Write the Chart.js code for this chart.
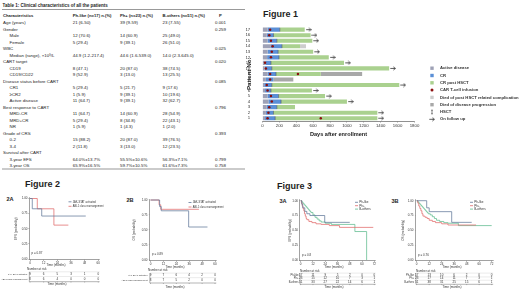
<!DOCTYPE html>
<html><head><meta charset="utf-8">
<script src="https://cdn.jsdelivr.net/npm/chart.js@4.4.1/dist/chart.umd.min.js"></script>
<style>
html,body{margin:0;padding:0;background:#fff;}
body{width:520px;height:291px;position:relative;overflow:hidden;font-family:"Liberation Sans",Arial,sans-serif;color:#1e1e1e;}
.t{position:absolute;white-space:nowrap;line-height:1;}
.t sup{font-size:0.6em;vertical-align:0;position:relative;top:-0.45em;line-height:0;}
canvas{position:absolute;}
#tbl{position:absolute;left:0;top:0;width:2080px;height:1164px;transform:scale(0.25);transform-origin:0 0;}
#ovl{position:absolute;left:0;top:0;width:2080px;height:1164px;transform:scale(0.25);transform-origin:0 0;}
.ln{position:absolute;background:#333;}
</style></head>
<body>
<div id="tbl"></div>
<div id="ovl"></div>
<script>
// ================= DATA =================
const tableTitle = 'Table 1: Clinical characteristics of all the patients';
const tableHeader = ['Characteristics','Ph-like (n=17) n.(%)','Ph+ (n=23) n.(%)','B-others (n=51) n.(%)','P'];
const rowLabels = ['Age (years)','Gender','Male','Female','WBC','Median (range), ×10<sup>9</sup>/L','CART target','CD19','CD19/CD22','Disease status before CART','CR1','≥CR2','Active disease','Best response to CART','MRD-CR','MRD+CR','NR','Grade of CRS','0-2','3-4','Survival after CART','3-year EFS','3-year OS'];
const rowIndent = [0,0,1,1,0,1,0,1,1,0,1,1,1,0,1,1,1,0,1,1,0,1,1];
const colPhLike = ['21 (6-50)','','12 (70.6)','5 (29.4)','','44.9 (1.2-217.4)','','8 (47.1)','9 (52.9)','','5 (29.4)','1 (5.9)','11 (64.7)','','11 (64.7)','5 (29.4)','1 (5.9)','','15 (88.2)','2 (11.8)','','64.0%±13.7%','65.9%±16.5%'];
const colPhPos = ['39 (9-59)','','14 (60.9)','9 (39.1)','','44.6 (1.6-539.0)','','20 (87.0)','3 (13.0)','','5 (21.7)','9 (39.1)','9 (39.1)','','14 (60.9)','8 (34.8)','1 (4.3)','','20 (87.0)','3 (13.0)','','55.5%±10.6%','59.7%±10.5%'];
const colBOthers = ['23 (7-55)','','25 (49.0)','26 (51.0)','','14.0 (2.3-645.0)','','38 (74.5)','13 (25.5)','','9 (17.6)','10 (19.6)','32 (62.7)','','28 (54.9)','22 (43.1)','1 (2.0)','','39 (76.5)','12 (23.5)','','56.3%±7.1%','61.6%±7.3%'];
const colP = ['0.001','0.259','','','0.025','','0.020','','','0.085','','','','0.796','','','','0.393','','','','0.799','0.758'];

// Figure 1 (swimmer plot), days after enrollment
const patientNo = ['17','16','15','14','13','12','11','10','9','8','7','6','5','4','3','2','1'];
const activeDiseaseEnd = [60,50,60,100,60,55,40,25,60,40,20,30,60,70,50,40,30];
const crEnd = [205,130,170,230,185,195,100,110,160,130,110,100,190,220,170,130,150];
const crPostHsctEnd = [500,570,590,445,600,785,965,1500,690,null,1620,585,740,1000,385,1360,1360];
const diedPostHsctEnd = [null,null,null,515,null,null,null,null,null,null,null,null,null,null,null,null,null];
const diedProgressionEnd = [null,null,null,null,null,null,null,null,1180,365,null,null,null,null,null,null,null];
const onFollowUp = [1,1,1,0,1,1,1,1,0,0,1,1,1,1,0,1,1];
const carTDay = [90,80,100,120,110,100,30,40,90,90,50,60,100,110,80,70,60];
const carTReinfusionPatient = ['9','1'];
const carTReinfusionDay = [420,690];
const daysTicks = [0,200,400,600,800,1000,1200,1400,1600,1800];
const fig1LegendLabels = ['Active disease','CR','CR post HSCT','CAR T-cell infusion','Died of post HSCT related complication','Died of disease progression','HSCT','On follow up'];

// Figure 2A (EFS, Ph-like subgroups)
const km2A_jak_t = [0,2,10.3,49];      const km2A_jak_s = [1,0.83,0.71,0.71];
const km2A_abl_t = [0,6.4,21,33.7];    const km2A_abl_s = [1,0.83,0.56,0.56];
const risk2A_jak = [9,6,5,3,1,0];      const risk2A_abl = [8,6,4,0,0,0];
// Figure 2B (OS, Ph-like subgroups)
const km2B_jak_t = [0,8.5,10,35.5,53]; const km2B_jak_s = [1,0.89,0.82,0.55,0.55];
const km2B_abl_t = [0,8,9.5,45];       const km2B_abl_s = [1,0.92,0.845,0.845];
const risk2B_jak = [9,7,6,4,2,0];      const risk2B_abl = [8,7,5,2,0,0];
const months60 = [0,12,24,36,48,60];
// Figure 3A (EFS by group)
const km3A_phl_t = [0,1,2,4,6,9,23.5,48];
const km3A_phl_s = [1,0.94,0.88,0.82,0.78,0.75,0.635,0.635];
const km3A_php_t = [0,0.7,1.5,2.2,3,3.7,4.5,5.3,6,8,11,15,20,28,38,71];
const km3A_php_s = [1,0.96,0.91,0.87,0.83,0.78,0.74,0.70,0.68,0.65,0.63,0.61,0.60,0.58,0.55,0.55];
const km3A_bo_t = [0,1,2,3,4,5,6,7,8,9,10,12,14,16,18,20,24,30,53,64.5];
const km3A_bo_s = [1,0.98,0.96,0.94,0.92,0.90,0.88,0.86,0.84,0.82,0.80,0.76,0.72,0.69,0.66,0.64,0.62,0.60,0.48,0];
const risk3A_phl = [17,11,9,5,2,0,0]; const risk3A_php = [23,15,12,10,7,3,1]; const risk3A_bo = [51,33,27,22,14,6,1];
// Figure 3B (OS by group)
const km3B_phl_t = [0,9.6,12,33.6,52.8];
const km3B_phl_s = [1,0.88,0.815,0.635,0.635];
const km3B_php_t = [0,1,2,3,4,5,6,8,10,12,15,18,24,30,57];
const km3B_php_s = [1,0.96,0.91,0.87,0.83,0.78,0.74,0.72,0.70,0.67,0.65,0.63,0.61,0.59,0.59];
const km3B_bo_t = [0,1,2,3,4,5,6,7,8,9,10,11,13,15,17,19,22,26,30,40,72];
const km3B_bo_s = [1,0.98,0.96,0.94,0.92,0.90,0.88,0.86,0.84,0.82,0.80,0.78,0.76,0.73,0.70,0.67,0.65,0.63,0.62,0.58,0.58];
const risk3B_phl = [17,13,10,6,2,0,0]; const risk3B_php = [23,17,14,11,7,3,1]; const risk3B_bo = [51,38,31,25,15,6,1];
const months72 = [0,12,24,36,48,60,72];

// ================= STYLE =================
const FONT = '"Liberation Sans", Arial, sans-serif';
const COL_BLUEGRAY = '#62789a', COL_RED = '#e06a6a', COL_GREEN = '#5dbb8e';
const COL_ACTIVE = '#9ea1b6', COL_CR = '#5b8fd6', COL_CRH = '#aad18f', COL_CART = '#8b1010',
      COL_DIEDH = '#cdcdcd', COL_PROG = '#a8a8a8', COL_HSCT = '#555', COL_FU = '#333';
Chart.defaults.font.family = FONT;
Chart.defaults.color = '#333';

// ================= TEXT HELPERS =================
const S = 4;
function addText(parent, html, x, yc, size, bold, align) {
  const d = document.createElement('div');
  d.className = 't';
  d.innerHTML = html;
  d.style.fontSize = (size*S)+'px';
  d.style.top = ((yc - 0.49*size)*S)+'px';
  if (bold) d.style.fontWeight = 'bold';
  parent.appendChild(d);
  if (align === 'center') d.style.left = (x*S - d.offsetWidth/2)+'px';
  else d.style.left = (x*S)+'px';
  return d;
}
function addLine(parent, x1, x2, y, w) {
  const d = document.createElement('div');
  d.className = 'ln';
  d.style.left = (x1*S)+'px'; d.style.width = ((x2-x1)*S)+'px';
  d.style.top = ((y - w/2)*S)+'px'; d.style.height = (w*S)+'px';
  parent.appendChild(d);
}

// ================= TABLE =================
(function(){
  const tb = document.getElementById('tbl');
  const fs = 4.4, hfs = 4.2;
  const cx = [3, 72.7, 120, 162.5, 215];
  addText(tb, tableTitle, 2.5, 5.4, 4.5, true);
  addLine(tb, 2, 245, 9.5, 0.6);
  tableHeader.forEach((h,i)=> addText(tb, h, i===4 ? 219 : cx[i], 15.8, hfs, true));
  rowLabels.forEach((lab,i)=>{
    const y = 22.8 + i*6.5;
    addText(tb, lab, rowIndent[i] ? 9.5 : 3, y, fs, false);
    if (colPhLike[i]) addText(tb, colPhLike[i], cx[1], y, fs, false);
    if (colPhPos[i]) addText(tb, colPhPos[i], cx[2], y, fs, false);
    if (colBOthers[i]) addText(tb, colBOthers[i], cx[3], y, fs, false);
    if (colP[i]) addText(tb, colP[i], cx[4], y, fs, false);
  });
  addLine(tb, 2, 245, 169, 0.7);
  const ov = document.getElementById('ovl');
  addText(ov, 'Figure 1', 263, 14, 9, true);
  addText(ov, 'Figure 2', 25, 183.5, 9, true);
  addText(ov, 'Figure 3', 277, 185.5, 9, true);
  addText(ov, '2A', 6.5, 199.3, 5.6, true);
  addText(ov, '2B', 126.5, 200.3, 5.6, true);
  addText(ov, '3A', 279.5, 201.6, 5.6, true);
  addText(ov, '3B', 391.5, 201.6, 5.6, true);
})();

function mkCanvas(id, c) {
  const el = document.createElement('canvas');
  el.id = id; el.width = c.width; el.height = c.height;
  el.style.left = c.left+'px'; el.style.top = c.top+'px';
  el.style.width = c.width+'px'; el.style.height = c.height+'px';
  document.body.appendChild(el);
  return el;
}

// ================= FIGURE 1: SWIMMER =================
(function(){
  const sc = {left:240, top:20, width:280, height:122};
  const sa = {L:262.5, R:414.5, T:26.5, B:121};
  const el = mkCanvas('swim', sc);
  const yTitleSize = 6.2, yTitleX = 249.5;
  const padL = yTitleX - yTitleSize*0.6 - sc.left;
  const yWidth = sa.L - sc.left - padL;
  const xTitleSize = 5.6, xTitleY = 134.3;
  const xBottom = xTitleY + xTitleSize*0.6 - sc.top;
  const xh = xBottom - (sa.B - sc.top);

  const zeros = patientNo.map(()=>0);
  const seg = (a,b)=>patientNo.map((p,i)=> (a[i]!=null && b[i]!=null) ? [a[i], b[i]] : null);
  const progStart = patientNo.map((p,i)=> crPostHsctEnd[i]!=null ? crPostHsctEnd[i] : crEnd[i]);
  const barOpts = {grouped:false, barPercentage:0.74, categoryPercentage:1, borderWidth:0, order:1};

  const cartPts = patientNo.map((p,i)=> carTDay[i]!=null ? {x:carTDay[i], y:p} : null).filter(Boolean)
    .concat(carTReinfusionPatient.map((p,i)=>({x:carTReinfusionDay[i], y:p})));
  const hsctPts = patientNo.map((p,i)=> crPostHsctEnd[i]!=null ? {x:crEnd[i], y:p} : null).filter(Boolean);
  const fuPts = patientNo.map((p,i)=> onFollowUp[i] ? {x:(crPostHsctEnd[i]||crEnd[i]) + 45, y:p} : null).filter(Boolean);

  const arrow = document.createElement('canvas'); arrow.width = 6; arrow.height = 5;
  (function(g){ g.strokeStyle = COL_FU; g.lineWidth = 0.8; g.beginPath(); g.moveTo(0.3,2.5); g.lineTo(5.4,2.5);
     g.moveTo(3.4,0.9); g.lineTo(5.4,2.5); g.lineTo(3.4,4.1); g.stroke(); })(arrow.getContext('2d'));

  const legendPlugin = {
    id:'fig1legend',
    afterDraw(chart){
      const ctx = chart.ctx; ctx.save();
      const mx = 432 - sc.left, tx = 440 - sc.left;
      const types = ['box','box','box','dot','box','box','hsct','arrow'];
      const cols = [COL_ACTIVE, COL_CR, COL_CRH, COL_CART, COL_DIEDH, COL_PROG, COL_HSCT, COL_FU];
      ctx.font = 'bold 4.2px ' + FONT; ctx.textBaseline = 'middle'; ctx.textAlign = 'left';
      fig1LegendLabels.forEach((lab,i)=>{
        const y = 68.2 + i*7.3 - sc.top;
        ctx.fillStyle = cols[i];
        if (types[i]==='box') ctx.fillRect(mx-1.7, y-1.7, 3.4, 3.4);
        else if (types[i]==='dot') { ctx.beginPath(); ctx.arc(mx, y, 1.5, 0, Math.PI*2); ctx.fill(); }
        else if (types[i]==='hsct') { ctx.strokeStyle = cols[i]; ctx.lineWidth = 0.7; ctx.beginPath();
          ctx.moveTo(mx, y-1.8); ctx.lineTo(mx, y+1.8); ctx.moveTo(mx-1, y-1.8); ctx.lineTo(mx+1, y-1.8);
          ctx.moveTo(mx-1, y+1.8); ctx.lineTo(mx+1, y+1.8); ctx.stroke(); }
        else ctx.drawImage(arrow, mx-3, y-2.5);
        ctx.fillStyle = '#333';
        ctx.fillText(lab, tx, y);
      });
      ctx.restore();
    }
  };

  new Chart(el, {
    type:'bar',
    data:{ labels: patientNo, datasets:[
      {type:'scatter', label:'CAR T-cell infusion', data:cartPts, pointStyle:'circle', pointRadius:1.25, backgroundColor:COL_CART, borderWidth:0, order:-2},
      {type:'scatter', label:'HSCT', data:hsctPts, pointStyle:'line', rotation:90, pointRadius:1.8, borderColor:COL_HSCT, borderWidth:0.6, order:-1},
      {type:'scatter', label:'On follow up', data:fuPts, pointStyle:arrow, pointRadius:2, order:-1},
      Object.assign({label:'Active disease', data:seg(zeros, activeDiseaseEnd), backgroundColor:COL_ACTIVE}, barOpts),
      Object.assign({label:'CR', data:seg(activeDiseaseEnd, crEnd), backgroundColor:COL_CR}, barOpts),
      Object.assign({label:'CR post HSCT', data:seg(crEnd, crPostHsctEnd), backgroundColor:COL_CRH}, barOpts),
      Object.assign({label:'Died of post HSCT related complication', data:seg(crPostHsctEnd, diedPostHsctEnd), backgroundColor:COL_DIEDH}, barOpts),
      Object.assign({label:'Died of disease progression', data:seg(progStart, diedProgressionEnd), backgroundColor:COL_PROG}, barOpts)
    ]},
    options:{
      indexAxis:'y', responsive:false, animation:false, devicePixelRatio:1,
      layout:{autoPadding:false, padding:{left:padL, top:sa.T-sc.top, right:sc.left+sc.width-sa.R, bottom:sc.height-xBottom}},
      plugins:{legend:{display:false}, tooltip:{enabled:false}},
      scales:{
        x:{type:'linear', min:0, max:1800,
           afterBuildTicks:s=>{ s.ticks = daysTicks.map(v=>({value:v})); },
           afterFit:s=>{ s.height = xh; },
           grid:{drawOnChartArea:false, tickLength:1.5, color:'#444', lineWidth:0.5},
           border:{display:true, color:'#444', width:0.6},
           ticks:{font:{size:4.3}, color:'#333', padding:0.3, maxRotation:0, autoSkip:false, callback:v=>String(v)},
           title:{display:true, text:'Days after enrollment', font:{size:xTitleSize, weight:'bold'}, color:'#222', padding:0}},
        y:{type:'category', offset:true,
           afterFit:s=>{ s.width = yWidth; },
           grid:{display:false}, border:{display:false},
           ticks:{font:{size:4.3}, color:'#333', padding:4.3, autoSkip:false},
           title:{display:true, text:'Patient No.', font:{size:yTitleSize, weight:'bold'}, color:'#222', padding:0}}
      }
    },
    plugins:[legendPlugin]
  });
})();

// ================= KAPLAN-MEIER =================
function makeKM(cfg){
  const c = cfg.canvas, el = mkCanvas(cfg.id, c);
  const xpx = v => cfg.x0 + v*cfg.xPer;
  const ypx = v => cfg.y0 - v*cfg.yPer;
  const L = xpx(cfg.xMin), R = xpx(cfg.xMax), T = ypx(cfg.yMax), B = ypx(cfg.yMin);
  const padL = cfg.yTitleX - 1.8 - c.left;
  const yWidth = L - c.left - padL;
  const xh = 6;
  const xBottom = B - c.top + xh;
  const yTickPad = Math.max(0, L - 1 - cfg.yLabelRight);
  const xTickPad = Math.max(0, cfg.xLabelY - B - 1 - 1.8);
  const plug = {
    id:'km_'+cfg.id,
    afterDraw(chart){
      const ctx = chart.ctx, ox = c.left, oy = c.top, xs = chart.scales.x;
      ctx.save();
      ctx.textBaseline = 'middle'; ctx.fillStyle = '#333';
      ctx.font = cfg.legendFont + 'px ' + FONT;
      cfg.series.forEach((s,i)=>{
        const y = cfg.legendY[i]-oy, x = cfg.legendX-ox;
        ctx.strokeStyle = s.color; ctx.lineWidth = 0.8;
        ctx.beginPath(); ctx.moveTo(x, y); ctx.lineTo(x+3, y); ctx.stroke();
        ctx.textAlign = 'left'; ctx.fillText(s.label, x+4.3, y);
      });
      ctx.font = '3px ' + FONT;
      ctx.textAlign = 'left'; ctx.fillText(cfg.pText, cfg.pX-ox, cfg.pY-oy);
      ctx.textAlign = 'center'; ctx.fillText('Time (months)', cfg.xTitleX-ox, cfg.xTitleY-oy);
      ctx.textAlign = 'left'; ctx.fillText('Number at risk', cfg.riskTitleX-ox, cfg.riskTitleY-oy);
      const top = cfg.riskRowY[0]-oy - 2.2, ax = cfg.riskAxisY-oy;
      ctx.strokeStyle = '#bbb'; ctx.lineWidth = 0.3;
      ctx.beginPath(); ctx.moveTo(xs.left, top); ctx.lineTo(xs.right, top);
      for (let i=1;i<cfg.riskRowY.length;i++){ const yy=(cfg.riskRowY[i]+cfg.riskRowY[i-1])/2-oy; ctx.moveTo(xs.left, yy); ctx.lineTo(xs.right, yy); }
      ctx.stroke();
      ctx.strokeStyle = '#444'; ctx.lineWidth = 0.4;
      ctx.beginPath(); ctx.moveTo(xs.left, top); ctx.lineTo(xs.left, ax); ctx.lineTo(xs.right, ax);
      cfg.xTicks.forEach(v=>{ const px = xs.getPixelForValue(v); ctx.moveTo(px, ax); ctx.lineTo(px, ax+0.8); });
      ctx.stroke();
      cfg.series.forEach((s,i)=>{
        const y = cfg.riskRowY[i]-oy;
        ctx.fillStyle = '#333';
        ctx.font = cfg.riskLabelFont + 'px ' + FONT;
        ctx.textAlign = 'right'; ctx.fillText(s.label, cfg.riskLabelRight-ox, y);
        ctx.font = '3px ' + FONT;
        ctx.textAlign = 'center';
        s.risk.forEach((n,j)=> ctx.fillText(String(n), xs.getPixelForValue(cfg.xTicks[j]), y));
      });
      ctx.textAlign = 'center'; ctx.fillText('Time (months)', cfg.riskTimeX-ox, cfg.riskTimeY-oy);
      ctx.restore();
    }
  };
  new Chart(el, {
    type:'line',
    data:{datasets: cfg.series.map(s=>({label:s.label, data:s.t.map((t,i)=>({x:t, y:s.s[i]})),
        borderColor:s.color, borderWidth:0.75, pointRadius:0, stepped:true, fill:false}))},
    options:{
      responsive:false, animation:false, devicePixelRatio:1,
      layout:{autoPadding:false, padding:{left:padL, top:T-c.top, right:c.left+c.width-R, bottom:c.height-xBottom}},
      plugins:{legend:{display:false}, tooltip:{enabled:false}},
      scales:{
        x:{type:'linear', min:cfg.xMin, max:cfg.xMax,
           afterBuildTicks:s=>{ s.ticks = cfg.xTicks.map(v=>({value:v})); },
           afterFit:s=>{ s.height = xh; },
           grid:{drawOnChartArea:false, tickLength:1, color:'#444', lineWidth:0.4},
           border:{display:true, color:'#444', width:0.5},
           ticks:{font:{size:3}, color:'#333', padding:xTickPad, maxRotation:0, autoSkip:false, callback:v=>String(v)}},
        y:{type:'linear', min:cfg.yMin, max:cfg.yMax,
           afterBuildTicks:s=>{ s.ticks = [0,0.25,0.5,0.75,1].map(v=>({value:v})); },
           afterFit:s=>{ s.width = yWidth; },
           grid:{drawOnChartArea:false, tickLength:1, color:'#444', lineWidth:0.4},
           border:{display:true, color:'#444', width:0.5},
           ticks:{font:{size:3}, color:'#333', padding:yTickPad, autoSkip:false, callback:v=>Number(v).toFixed(2)},
           title:{display:true, text:cfg.yTitle, font:{size:3}, color:'#333', padding:0}}
      }
    },
    plugins:[plug]
  });
}

makeKM({id:'km2A', canvas:{left:0, top:190, width:118, height:101},
  x0:30, xPer:1.138, xMin:-0.6, xMax:61.2, xTicks:months60,
  y0:259, yPer:60.5, yMin:-0.016, yMax:1.016,
  yTitle:'EFS (probability)', yTitleX:16.5, yLabelRight:27.5, xLabelY:262.7, xTitleX:56, xTitleY:265.6,
  series:[{label:'JAK-STAT activated', t:km2A_jak_t, s:km2A_jak_s, color:COL_BLUEGRAY, risk:risk2A_jak},
          {label:'ABL1 class rearrangement', t:km2A_abl_t, s:km2A_abl_s, color:COL_RED, risk:risk2A_abl}],
  legendX:68.5, legendY:[201.8,206.3], legendFont:2.6, pText:'p = 0.87', pX:31.5, pY:253,
  riskTitleX:27, riskTitleY:269, riskRowY:[274,279], riskLabelRight:27.3, riskLabelFont:2.2, riskAxisY:281.7, riskTimeX:57, riskTimeY:284.5});

makeKM({id:'km2B', canvas:{left:118, top:190, width:122, height:101},
  x0:150.5, xPer:1.075, xMin:-0.6, xMax:61.2, xTicks:months60,
  y0:260, yPer:60, yMin:-0.016, yMax:1.016,
  yTitle:'OS (probability)', yTitleX:134, yLabelRight:147.5, xLabelY:264.5, xTitleX:175, xTitleY:267,
  series:[{label:'JAK-STAT activated', t:km2B_jak_t, s:km2B_jak_s, color:COL_BLUEGRAY, risk:risk2B_jak},
          {label:'ABL1 class rearrangement', t:km2B_abl_t, s:km2B_abl_s, color:COL_RED, risk:risk2B_abl}],
  legendX:188.5, legendY:[202.5,207], legendFont:2.6, pText:'p = 0.89', pX:152, pY:254,
  riskTitleX:148, riskTitleY:270.5, riskRowY:[275.3,280], riskLabelRight:147.5, riskLabelFont:2.2, riskAxisY:283, riskTimeX:175, riskTimeY:287});

makeKM({id:'km3A', canvas:{left:278, top:190, width:114, height:101},
  x0:300.7, xPer:1.0222, xMin:-0.7, xMax:73.4, xTicks:months72,
  y0:260, yPer:59.3, yMin:-0.016, yMax:1.016,
  yTitle:'EFS (probability)', yTitleX:290, yLabelRight:298, xLabelY:264.3, xTitleX:334, xTitleY:267.3,
  series:[{label:'Ph-like', t:km3A_phl_t, s:km3A_phl_s, color:COL_BLUEGRAY, risk:risk3A_phl},
          {label:'Ph+', t:km3A_php_t, s:km3A_php_s, color:COL_RED, risk:risk3A_php},
          {label:'B-others', t:km3A_bo_t, s:km3A_bo_s, color:COL_GREEN, risk:risk3A_bo}],
  legendX:355, legendY:[202.3,205.7,209.1], legendFont:3, pText:'p = 0.8', pX:302, pY:255.5,
  riskTitleX:300, riskTitleY:271.5, riskRowY:[275.3,278.6,281.9], riskLabelRight:298.5, riskLabelFont:2.6, riskAxisY:284.3, riskTimeX:334, riskTimeY:287.5});

makeKM({id:'km3B', canvas:{left:392, top:190, width:128, height:101},
  x0:416.7, xPer:1.0417, xMin:-0.7, xMax:73.4, xTicks:months72,
  y0:260, yPer:59.3, yMin:-0.016, yMax:1.016,
  yTitle:'OS (probability)', yTitleX:403.5, yLabelRight:413.5, xLabelY:264.3, xTitleX:452, xTitleY:267.3,
  series:[{label:'Ph-like', t:km3B_phl_t, s:km3B_phl_s, color:COL_BLUEGRAY, risk:risk3B_phl},
          {label:'Ph+', t:km3B_php_t, s:km3B_php_s, color:COL_RED, risk:risk3B_php},
          {label:'B-others', t:km3B_bo_t, s:km3B_bo_s, color:COL_GREEN, risk:risk3B_bo}],
  legendX:470, legendY:[202.3,205.7,209.1], legendFont:3, pText:'p = 0.76', pX:418, pY:255.5,
  riskTitleX:416, riskTitleY:271.5, riskRowY:[275.3,278.6,281.9], riskLabelRight:414, riskLabelFont:2.6, riskAxisY:284.3, riskTimeX:452, riskTimeY:287.5});
</script>
</body></html>
